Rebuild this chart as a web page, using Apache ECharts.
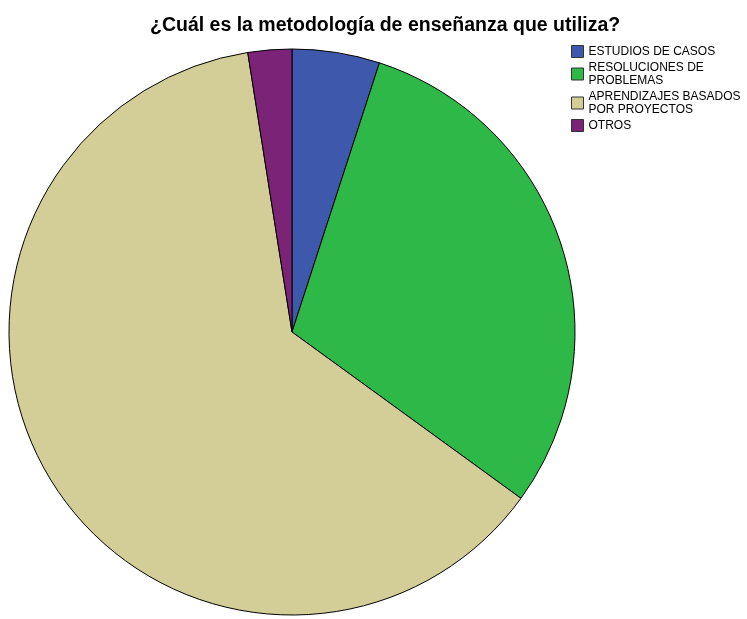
<!DOCTYPE html>
<html lang="es">

<head>
    <meta charset="UTF-8">
    <title>Metodología</title>
    <script src="https://cdn.jsdelivr.net/npm/echarts@6/dist/echarts.min.js"></script>
    <style>
        body { margin: 0; background: #fff; }
    </style>
</head>

<body>
    <div id="pieChart" style="width: 747px; height: 619px;"></div>
    <script>
        // datos
        const titulo = '¿Cuál es la metodología de enseñanza que utiliza?';
        const categorias = ['ESTUDIOS DE CASOS', 'RESOLUCIONES DE\nPROBLEMAS', 'APRENDIZAJES BASADOS\nPOR PROYECTOS', 'OTROS'];
        const valores = [2, 12, 25, 1];
        const colores = ['#3e58ac', '#2eb848', '#d3ce97', '#7b2376'];

        const chart = echarts.init(document.getElementById('pieChart'));
        chart.setOption({
            animation: false,
            title: {
                text: titulo,
                left: 145,
                top: 11,
                textStyle: {
                    fontFamily: 'Liberation Sans, Arial',
                    fontSize: 19.5,
                    fontWeight: 'bold',
                    color: '#000'
                }
            },
            legend: {
                orient: 'vertical',
                left: 566,
                top: 40,
                itemWidth: 12,
                itemHeight: 12,
                itemGap: 3,
                icon: 'rect',
                data: categorias,
                itemStyle: { borderColor: '#333', borderWidth: 1 },
                textStyle: {
                    fontFamily: 'Liberation Sans, Arial',
                    fontSize: 12,
                    lineHeight: 13,
                    color: '#000'
                }
            },
            series: [{
                type: 'pie',
                center: [292, 332],
                radius: 283,
                startAngle: 90,
                clockwise: true,
                label: { show: false },
                labelLine: { show: false },
                emphasis: { disabled: true },
                itemStyle: { borderColor: '#000', borderWidth: 1 },
                data: categorias.map((nombre, i) => ({
                    name: nombre,
                    value: valores[i],
                    itemStyle: { color: colores[i] }
                }))
            }]
        });
    </script>
</body>

</html>
